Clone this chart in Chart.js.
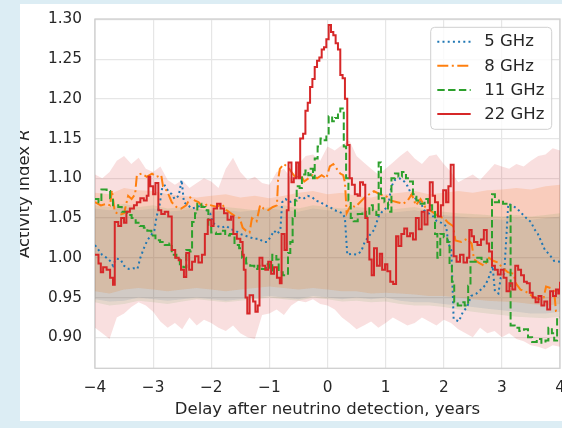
<!DOCTYPE html>
<html>
<head>
<meta charset="utf-8">
<script src="https://cdn.jsdelivr.net/npm/chart.js@4.4.1/dist/chart.umd.min.js"></script>
<style>
  html, body { margin: 0; padding: 0; background: #dcedf4; }
  body { width: 562px; height: 428px; overflow: hidden; position: relative; }
  #panel { position: absolute; left: 20px; top: 4px; width: 542px; height: 417px; background: #fff; }
  canvas { display: block; }
</style>
</head>
<body>
<div id="panel"><canvas id="chart" width="542" height="417"></canvas></div>
<script>
// tick labels
const xTicks = [-4, -3, -2, -1, 0, 1, 2, 3, 4];
const yTicks = [0.90, 0.95, 1.00, 1.05, 1.10, 1.15, 1.20, 1.25, 1.30];

// 22 GHz activity index (delay in years, value)
const t22 = [
  -4.0, -3.94, -3.9, -3.86, -3.8, -3.74, -3.69, -3.66, -3.6, -3.55,
  -3.5, -3.46, -3.4, -3.33, -3.28, -3.22, -3.16, -3.11, -3.08, -3.05,
  -3.0, -2.96, -2.91, -2.86, -2.8, -2.74, -2.68, -2.62, -2.56, -2.52,
  -2.47, -2.43, -2.38, -2.33, -2.28, -2.22, -2.16, -2.11, -2.06, -2.0,
  -1.96, -1.9, -1.84, -1.78, -1.72, -1.66, -1.62, -1.56, -1.5, -1.46,
  -1.44, -1.41, -1.38, -1.34, -1.28, -1.24, -1.2, -1.17, -1.12, -1.07,
  -1.02, -0.97, -0.92, -0.87, -0.82, -0.79, -0.74, -0.7, -0.67, -0.62,
  -0.58, -0.54, -0.5, -0.47, -0.42, -0.38, -0.34, -0.3, -0.26, -0.22,
  -0.18, -0.14, -0.1, -0.06, -0.02, 0.02, 0.06, 0.1, 0.14, 0.18,
  0.22, 0.26, 0.3, 0.34, 0.38, 0.42, 0.47, 0.52, 0.56, 0.61,
  0.65, 0.69, 0.72, 0.76, 0.8, 0.85, 0.9, 0.94, 0.99, 1.03,
  1.08, 1.13, 1.18, 1.22, 1.27, 1.32, 1.37, 1.42, 1.47, 1.52,
  1.57, 1.62, 1.67, 1.72, 1.76, 1.81, 1.85, 1.9, 1.95, 1.99,
  2.04, 2.08, 2.12, 2.17, 2.22, 2.28, 2.34, 2.4, 2.44, 2.48,
  2.52, 2.58, 2.64, 2.69, 2.74, 2.78, 2.83, 2.88, 2.93, 2.98,
  3.03, 3.08, 3.13, 3.18, 3.23, 3.28, 3.33, 3.38, 3.43, 3.48,
  3.53, 3.58, 3.63, 3.68, 3.73, 3.78, 3.83, 3.88, 3.93, 3.97,
  4.0
];
const r22 = [
  1.004, 0.993, 0.982, 0.988, 0.985, 0.975, 0.966, 1.045, 1.040, 1.050,
  1.044, 1.058, 1.062, 1.066, 1.070, 1.075, 1.072, 1.078, 1.102, 1.090,
  1.080, 1.094, 1.060, 1.055, 1.058, 1.052, 1.010, 1.000, 0.997, 0.985,
  0.976, 1.006, 0.985, 0.995, 1.002, 0.994, 1.004, 1.030, 1.048, 1.040,
  1.062, 1.068, 1.062, 1.056, 1.048, 1.052, 1.030, 1.024, 1.020, 1.004,
  0.985, 0.950, 0.930, 0.953, 0.945, 0.932, 0.940, 1.000, 0.990, 0.985,
  0.995, 0.980, 0.988, 0.975, 0.968, 1.030, 1.010, 1.060, 1.120, 1.095,
  1.100, 1.120, 1.100, 1.150, 1.156, 1.185, 1.195, 1.215, 1.225, 1.240,
  1.248, 1.252, 1.262, 1.265, 1.275, 1.293, 1.284, 1.280, 1.270, 1.262,
  1.230, 1.226, 1.200, 1.142, 1.100, 1.092, 1.080, 1.078, 1.095, 1.092,
  1.050, 1.020, 0.998, 0.978, 1.012, 0.990, 1.005, 0.985, 0.992, 0.983,
  0.970, 0.967, 1.027, 1.015, 1.030, 1.037, 1.027, 1.031, 1.023, 1.050,
  1.036, 1.058, 1.042, 1.060, 1.095, 1.078, 1.070, 1.052, 1.066, 1.085,
  1.070, 1.090, 1.117, 1.002, 0.995, 1.004, 0.994, 1.000, 1.035, 1.027,
  1.020, 1.016, 1.023, 1.035, 1.018, 1.008, 0.990, 0.985, 0.979, 0.985,
  0.975, 0.958, 0.968, 0.960, 0.990, 0.985, 0.978, 0.970, 0.968, 0.956,
  0.950, 0.944, 0.952, 0.940, 0.945, 0.935, 0.958, 0.952, 0.960, 0.955,
  0.970
];

// 11 GHz
const t11 = [
  -4.0, -3.94, -3.89, -3.8, -3.74, -3.69, -3.6, -3.54, -3.45, -3.37,
  -3.3, -3.23, -3.16, -3.1, -3.03, -2.96, -2.88, -2.8, -2.72, -2.68,
  -2.6, -2.54, -2.48, -2.43, -2.37, -2.33, -2.28, -2.24, -2.17, -2.1,
  -2.05, -2.0, -1.92, -1.84, -1.76, -1.68, -1.6, -1.52, -1.47, -1.4,
  -1.33, -1.26, -1.2, -1.13, -1.06, -1.0, -0.95, -0.88, -0.84, -0.77,
  -0.72, -0.68, -0.64, -0.6, -0.56, -0.53, -0.48, -0.44, -0.38, -0.33,
  -0.29, -0.25, -0.22, -0.17, -0.12, -0.07, -0.02, 0.02, 0.08, 0.13,
  0.18, 0.22, 0.28, 0.32, 0.36, 0.4, 0.45, 0.52, 0.6, 0.66,
  0.72, 0.78, 0.84, 0.88, 0.92, 0.98, 1.04, 1.1, 1.16, 1.22,
  1.28, 1.35, 1.42, 1.47, 1.53, 1.6, 1.67, 1.73, 1.8, 1.85,
  1.89, 1.94, 2.0, 2.06, 2.1, 2.14, 2.18, 2.24, 2.3, 2.36,
  2.42, 2.46, 2.55, 2.65, 2.75, 2.83, 2.88, 2.95, 3.02, 3.08,
  3.15, 3.22, 3.3, 3.38, 3.45, 3.52, 3.6, 3.68, 3.75, 3.8,
  3.86, 3.9, 3.95, 4.0
];
const r11 = [
  1.074, 1.070, 1.086, 1.084, 1.075, 1.066, 1.064, 1.058, 1.054, 1.050,
  1.044, 1.040, 1.038, 1.034, 1.028, 1.022, 1.020, 1.016, 1.018, 1.004,
  0.998, 0.992, 0.988, 1.010, 1.008, 1.045, 1.056, 1.068, 1.064, 1.060,
  1.040, 1.032, 1.030, 1.034, 1.028, 1.030, 1.016, 1.012, 1.000, 0.993,
  0.990, 0.986, 0.990, 0.986, 0.992, 0.984, 1.004, 0.998, 0.982, 0.978,
  0.980, 1.006, 1.020, 1.050, 1.072, 1.090, 1.088, 1.105, 1.110, 1.104,
  1.112, 1.100, 1.125, 1.140, 1.150, 1.148, 1.155, 1.178, 1.172, 1.176,
  1.182, 1.188, 1.140, 1.100, 1.072, 1.050, 1.046, 1.055, 1.058, 1.052,
  1.066, 1.060, 1.054, 1.120, 1.075, 1.070, 1.058, 1.100, 1.106, 1.102,
  1.108, 1.100, 1.096, 1.080, 1.072, 1.068, 1.074, 1.066, 1.060, 1.030,
  1.000, 1.030, 1.026, 1.020, 0.990, 0.970, 0.944, 0.940, 0.944, 0.940,
  0.965, 0.995, 1.000, 0.995, 0.998, 1.080, 1.070, 1.072, 1.068, 1.066,
  0.915, 0.912, 0.908, 0.910, 0.900, 0.894, 0.898, 0.893, 0.896, 0.912,
  0.905, 0.896, 0.925, 0.925
];

// 8 GHz
const t8 = [
  -4.0, -3.9, -3.8, -3.74, -3.71, -3.66, -3.58, -3.5, -3.43, -3.37,
  -3.31, -3.28, -3.2, -3.11, -3.02, -2.94, -2.86, -2.83, -2.76, -2.68,
  -2.6, -2.52, -2.43, -2.36, -2.28, -2.22, -2.14, -2.06, -2.0, -1.9,
  -1.82, -1.74, -1.66, -1.58, -1.51, -1.46, -1.4, -1.34, -1.3, -1.22,
  -1.16, -1.1, -1.02, -0.94, -0.87, -0.85, -0.82, -0.75, -0.68, -0.6,
  -0.54, -0.46, -0.4, -0.33, -0.26, -0.18, -0.1, -0.02, 0.04, 0.1,
  0.16, 0.22, 0.27, 0.3, 0.33, 0.4, 0.48, 0.56, 0.64, 0.72,
  0.8, 0.9, 1.0, 1.1, 1.2, 1.3, 1.38, 1.45, 1.52, 1.6,
  1.68, 1.76, 1.84, 1.92, 2.0, 2.08, 2.16, 2.2, 2.3, 2.4,
  2.48, 2.52, 2.6, 2.7, 2.78, 2.86, 2.94, 3.0, 3.1, 3.2,
  3.24, 3.32, 3.4, 3.48, 3.56, 3.64, 3.72, 3.76, 3.84, 3.9,
  3.93, 4.0
];
const r8 = [
  1.070, 1.066, 1.068, 1.066, 1.085, 1.058, 1.054, 1.056, 1.078, 1.074,
  1.080, 1.104, 1.106, 1.102, 1.106, 1.102, 1.104, 1.090, 1.084, 1.070,
  1.064, 1.062, 1.066, 1.076, 1.072, 1.070, 1.064, 1.068, 1.066, 1.064,
  1.068, 1.060, 1.056, 1.052, 1.050, 1.038, 1.034, 1.032, 1.050, 1.046,
  1.066, 1.062, 1.060, 1.064, 1.066, 1.098, 1.112, 1.118, 1.114, 1.106,
  1.100, 1.104, 1.096, 1.100, 1.104, 1.100, 1.104, 1.100, 1.115, 1.118,
  1.112, 1.106, 1.104, 1.095, 1.056, 1.066, 1.064, 1.070, 1.076, 1.080,
  1.084, 1.080, 1.078, 1.072, 1.070, 1.068, 1.072, 1.080, 1.066, 1.074,
  1.064, 1.060, 1.056, 1.052, 1.050, 1.044, 1.040, 1.022, 1.020, 1.024,
  1.018, 0.998, 0.994, 0.990, 1.000, 0.996, 0.994, 0.988, 0.982, 0.980,
  0.968, 0.960, 0.958, 0.954, 0.950, 0.948, 0.950, 0.964, 0.962, 0.958,
  0.933, 0.933
];

// 5 GHz
const t5 = [
  -4.0, -3.94, -3.88, -3.8, -3.74, -3.69, -3.64, -3.56, -3.5, -3.42,
  -3.34, -3.27, -3.22, -3.16, -3.1, -3.04, -2.98, -2.94, -2.89, -2.84,
  -2.8, -2.74, -2.68, -2.63, -2.56, -2.51, -2.47, -2.4, -2.33, -2.25,
  -2.16, -2.08, -2.02, -1.97, -1.9, -1.82, -1.74, -1.66, -1.58, -1.5,
  -1.42, -1.34, -1.26, -1.18, -1.1, -1.04, -0.98, -0.92, -0.86, -0.81,
  -0.78, -0.72, -0.66, -0.58, -0.5, -0.42, -0.34, -0.26, -0.2, -0.12,
  -0.04, 0.04, 0.12, 0.2, 0.26, 0.3, 0.34, 0.42, 0.5, 0.58,
  0.64, 0.72, 0.8, 0.88, 0.96, 1.04, 1.1, 1.16, 1.24, 1.32,
  1.38, 1.44, 1.52, 1.6, 1.66, 1.74, 1.82, 1.88, 1.96, 2.04,
  2.08, 2.13, 2.17, 2.26, 2.33, 2.4, 2.47, 2.56, 2.64, 2.72,
  2.79, 2.84, 2.88, 2.94, 2.98, 3.04, 3.11, 3.18, 3.26, 3.34,
  3.42, 3.5, 3.56, 3.62, 3.68, 3.74, 3.82, 3.9, 4.0
];
const r5 = [
  1.016, 1.010, 1.004, 1.000, 0.996, 0.990, 0.999, 0.998, 0.990, 0.986,
  0.987, 0.986, 1.000, 1.012, 1.022, 1.028, 1.034, 1.052, 1.066, 1.090,
  1.091, 1.084, 1.080, 1.074, 1.078, 1.098, 1.070, 1.066, 1.062, 1.064,
  1.066, 1.060, 1.056, 1.044, 1.040, 1.038, 1.040, 1.036, 1.034, 1.030,
  1.028, 1.026, 1.024, 1.024, 1.020, 1.020, 1.026, 1.034, 1.030, 1.036,
  1.070, 1.074, 1.070, 1.072, 1.076, 1.074, 1.078, 1.076, 1.072, 1.070,
  1.066, 1.064, 1.060, 1.058, 1.056, 1.050, 1.004, 1.005, 1.004, 1.008,
  1.020, 1.028, 1.035, 1.052, 1.060, 1.064, 1.090, 1.098, 1.100, 1.096,
  1.090, 1.080, 1.074, 1.070, 1.060, 1.056, 1.052, 1.046, 1.044, 1.040,
  1.018, 1.010, 0.923, 0.920, 0.932, 0.938, 0.952, 0.955, 0.960, 0.966,
  0.978, 0.990, 0.958, 0.955, 0.975, 0.980, 1.068, 1.066, 1.062, 1.056,
  1.050, 1.045, 1.036, 1.030, 1.020, 1.010, 1.004, 0.996, 0.995
];

// spread bands: 22 GHz on a finer grid, the rest on bandT
const band22T = [
  -4, -3.875, -3.75, -3.625, -3.5, -3.375, -3.25, -3.125, -3, -2.875,
  -2.75, -2.625, -2.5, -2.375, -2.25, -2.125, -2, -1.875, -1.75, -1.625,
  -1.5, -1.375, -1.25, -1.125, -1, -0.875, -0.75, -0.625, -0.5, -0.375,
  -0.25, -0.125, 0, 0.125, 0.25, 0.375, 0.5, 0.625, 0.75, 0.875,
  1, 1.125, 1.25, 1.375, 1.5, 1.625, 1.75, 1.875, 2, 2.125,
  2.25, 2.375, 2.5, 2.625, 2.75, 2.875, 3, 3.125, 3.25, 3.375,
  3.5, 3.625, 3.75, 3.875, 4
];
const up22 = [
  1.105, 1.100, 1.108, 1.122, 1.128, 1.118, 1.126, 1.112, 1.108, 1.115,
  1.098, 1.092, 1.098, 1.088, 1.094, 1.100, 1.096, 1.088, 1.112, 1.126,
  1.108, 1.098, 1.102, 1.094, 1.092, 1.108, 1.112, 1.100, 1.118, 1.128,
  1.130, 1.122, 1.140, 1.135, 1.142, 1.148, 1.128, 1.120, 1.112, 1.105,
  1.112, 1.120, 1.128, 1.135, 1.125, 1.118, 1.128, 1.130, 1.118, 1.108,
  1.095, 1.100, 1.105, 1.098, 1.108, 1.118, 1.115, 1.112, 1.118, 1.115,
  1.122, 1.128, 1.130, 1.138, 1.135
];
const lo22 = [
  0.912, 0.905, 0.898, 0.925, 0.930, 0.938, 0.944, 0.940, 0.932, 0.920,
  0.912, 0.918, 0.910, 0.925, 0.915, 0.922, 0.918, 0.912, 0.908, 0.915,
  0.905, 0.900, 0.898, 0.928, 0.930, 0.935, 0.928, 0.940, 0.946, 0.944,
  0.948, 0.942, 0.940, 0.935, 0.925, 0.918, 0.910, 0.915, 0.920, 0.912,
  0.918, 0.925, 0.920, 0.915, 0.918, 0.925, 0.920, 0.915, 0.922, 0.918,
  0.910, 0.905, 0.900, 0.912, 0.905, 0.908, 0.900, 0.905, 0.898, 0.895,
  0.890, 0.888, 0.885, 0.890, 0.888
];
const bandT = [
  -4, -3.75, -3.5, -3.25, -3, -2.75, -2.5, -2.25, -2, -1.75,
  -1.5, -1.25, -1, -0.75, -0.5, -0.25, 0, 0.25, 0.5, 0.75,
  1, 1.25, 1.5, 1.75, 2, 2.25, 2.5, 2.75, 3, 3.25,
  3.5, 3.75, 4
];
const up8 = [
  1.082, 1.080, 1.088, 1.085, 1.084, 1.080, 1.078, 1.076, 1.078, 1.080,
  1.076, 1.078, 1.075, 1.078, 1.082, 1.084, 1.080, 1.082, 1.078, 1.076,
  1.080, 1.082, 1.084, 1.080, 1.082, 1.084, 1.082, 1.085, 1.086, 1.088,
  1.086, 1.090, 1.092
];
const lo8 = [
  0.958, 0.955, 0.960, 0.962, 0.960, 0.958, 0.960, 0.962, 0.960, 0.958,
  0.960, 0.962, 0.964, 0.962, 0.960, 0.962, 0.960, 0.958, 0.958, 0.955,
  0.956, 0.955, 0.954, 0.952, 0.952, 0.950, 0.948, 0.946, 0.945, 0.944,
  0.942, 0.940, 0.942
];
const up11 = [
  1.066, 1.064, 1.068, 1.064, 1.066, 1.062, 1.064, 1.062, 1.060, 1.064,
  1.062, 1.060, 1.064, 1.066, 1.062, 1.066, 1.064, 1.062, 1.064, 1.062,
  1.060, 1.062, 1.064, 1.060, 1.058, 1.056, 1.055, 1.054, 1.052, 1.054,
  1.052, 1.054, 1.056
];
const lo11 = [
  0.944, 0.940, 0.942, 0.946, 0.944, 0.942, 0.945, 0.948, 0.946, 0.944,
  0.946, 0.948, 0.950, 0.948, 0.946, 0.950, 0.948, 0.945, 0.946, 0.944,
  0.945, 0.942, 0.940, 0.940, 0.938, 0.935, 0.932, 0.930, 0.928, 0.926,
  0.925, 0.924, 0.926
];
const up5 = [
  1.062, 1.060, 1.064, 1.060, 1.062, 1.058, 1.060, 1.062, 1.058, 1.060,
  1.058, 1.060, 1.062, 1.060, 1.058, 1.062, 1.060, 1.058, 1.060, 1.058,
  1.056, 1.058, 1.060, 1.056, 1.054, 1.052, 1.050, 1.050, 1.048, 1.050,
  1.048, 1.050, 1.052
];
const lo5 = [
  0.948, 0.945, 0.946, 0.950, 0.948, 0.946, 0.948, 0.950, 0.948, 0.946,
  0.948, 0.950, 0.952, 0.950, 0.948, 0.952, 0.950, 0.948, 0.950, 0.948,
  0.950, 0.946, 0.944, 0.944, 0.942, 0.940, 0.938, 0.936, 0.934, 0.932,
  0.930, 0.930, 0.932
];

const BLUE = '#1f77b4', ORANGE = '#ff7f0e', GREEN = '#2ca02c', RED = '#d62728';
const TEXT = '#262626';
const FONT = '"DejaVu Sans"';

Chart.defaults.font.family = FONT;
Chart.defaults.color = TEXT;

const pts = (xs, ys) => xs.map((x, i) => ({ x: x, y: ys[i] }));

function lineSet(label, xs, ys, color, dash, stepped, order) {
  return {
    label, data: pts(xs, ys), isLine: true,
    borderColor: color, borderWidth: 2, borderDash: dash, borderCapStyle: 'butt',
    stepped, tension: 0, pointRadius: 0, fill: false, order
  };
}
function bandPair(xs, up, lo, rgba) {
  return [
    { data: pts(xs, up), borderColor: 'rgba(0,0,0,0)', borderWidth: 0, pointRadius: 0,
      backgroundColor: rgba, fill: '+1', order: 5 },
    { data: pts(xs, lo), borderColor: 'rgba(0,0,0,0)', borderWidth: 0, pointRadius: 0,
      fill: false, order: 5 }
  ];
}

// bands listed top-most first: Chart.js paints later entries underneath
const datasets = [
  lineSet('5 GHz', t5, r5, BLUE, [2, 3.2], false, 3),
  lineSet('8 GHz', t8, r8, ORANGE, [11, 3.5, 2, 3.5], false, 2),
  lineSet('11 GHz', t11, r11, GREEN, [7.4, 3.4], true, 1),
  lineSet('22 GHz', t22, r22, RED, [], true, 0),
  ...bandPair(band22T, up22, lo22, 'rgba(214,39,40,0.15)'),
  ...bandPair(bandT, up11, lo11, 'rgba(44,160,44,0.11)'),
  ...bandPair(bandT, up8, lo8, 'rgba(255,127,14,0.17)'),
  ...bandPair(bandT, up5, lo5, 'rgba(31,119,180,0.12)')
];

// axes frame (all four spines)
const frame = {
  id: 'frame',
  beforeDatasetsDraw(chart) {
    const { ctx, chartArea: a } = chart;
    ctx.save();
    ctx.strokeStyle = '#cfcfcf';
    ctx.lineWidth = 1.3;
    ctx.strokeRect(a.left, a.top, a.right - a.left, a.bottom - a.top);
    ctx.restore();
  }
};

// y title with italic R
const yTitle = {
  id: 'yTitle',
  afterDraw(chart) {
    const { ctx, chartArea: a } = chart;
    const plain = '16.5px ' + FONT;
    const ital = 'italic 16.5px ' + FONT;
    ctx.save();
    ctx.translate(9.4, (a.top + a.bottom) / 2);
    ctx.rotate(-Math.PI / 2);
    ctx.fillStyle = TEXT;
    ctx.textBaseline = 'alphabetic';
    ctx.font = plain;
    const w1 = ctx.measureText('Activity index ').width;
    ctx.font = ital;
    const w2 = ctx.measureText('R').width;
    const x0 = -(w1 + w2) / 2;
    ctx.font = plain;
    ctx.fillText('Activity index ', x0, 0);
    ctx.font = ital;
    ctx.fillText('R', x0 + w1, 0);
    ctx.restore();
  }
};

// legend box in the upper right corner
const cornerLegend = {
  id: 'cornerLegend',
  afterDraw(chart) {
    const { ctx, chartArea: a } = chart;
    const items = chart.data.datasets.filter(d => d.isLine);
    const x0 = a.right - 129.3, y0 = a.top + 8.3, w = 121, h = 102;
    ctx.save();
    ctx.beginPath();
    ctx.roundRect(x0, y0, w, h, 4);
    ctx.fillStyle = 'rgba(255,255,255,0.8)';
    ctx.fill();
    ctx.strokeStyle = '#d0d0d0';
    ctx.lineWidth = 1;
    ctx.stroke();
    ctx.font = '16.5px ' + FONT;
    ctx.textBaseline = 'middle';
    items.forEach((d, i) => {
      const y = y0 + 14.4 + i * 24.1;
      ctx.beginPath();
      ctx.setLineDash(d.borderDash);
      ctx.lineCap = 'butt';
      ctx.strokeStyle = d.borderColor;
      ctx.lineWidth = 2;
      ctx.moveTo(x0 + 6.6, y);
      ctx.lineTo(x0 + 40, y);
      ctx.stroke();
      ctx.setLineDash([]);
      ctx.fillStyle = TEXT;
      ctx.fillText(d.label, x0 + 53.6, y + 0.5);
    });
    ctx.restore();
  }
};

new Chart(document.getElementById('chart'), {
  type: 'line',
  data: { datasets },
  options: {
    responsive: false,
    animation: false,
    layout: { padding: { top: 15, right: 2, left: 0, bottom: 0 } },
    plugins: { legend: { display: false }, tooltip: { enabled: false } },
    scales: {
      x: {
        type: 'linear', min: -4, max: 4,
        afterBuildTicks: s => { s.ticks = xTicks.map(v => ({ value: v })); },
        afterFit: s => { s.height = 52.7; s.paddingLeft = 0; s.paddingRight = 0; },
        ticks: {
          autoSkip: false, maxRotation: 0, padding: 10.5, color: TEXT,
          font: { size: 15.3 },
          callback: v => (v < 0 ? '\u2212' + (-v) : String(v))
        },
        grid: { color: '#e6e6e6', lineWidth: 1.2, drawTicks: false },
        border: { display: false },
        title: {
          display: true, text: 'Delay after neutrino detection, years', color: TEXT,
          font: { size: 16.5 }, padding: { top: 0, bottom: 1 }
        }
      },
      y: {
        type: 'linear', min: 0.861, max: 1.3005,
        afterBuildTicks: s => { s.ticks = yTicks.map(v => ({ value: v })); },
        afterFit: s => { s.width = 75; s.paddingTop = 0; s.paddingBottom = 0; },
        ticks: {
          padding: 13, color: TEXT, font: { size: 15.3 },
          callback: v => v.toFixed(2)
        },
        grid: { color: '#e6e6e6', lineWidth: 1.2, drawTicks: false },
        border: { display: false }
      }
    }
  },
  plugins: [frame, yTitle, cornerLegend]
});
</script>
</body>
</html>
